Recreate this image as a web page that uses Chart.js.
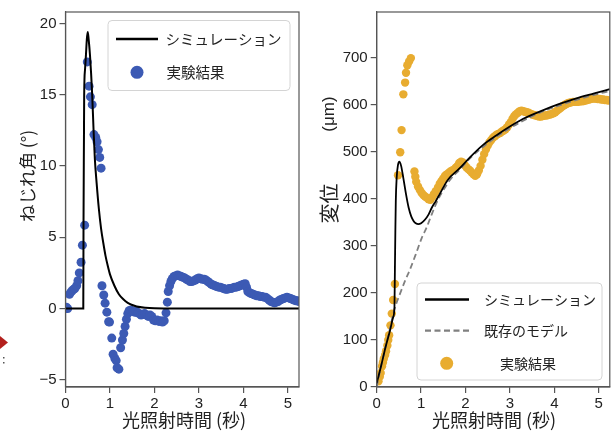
<!DOCTYPE html>
<html>
<head>
<meta charset="utf-8">
<script src="https://cdn.jsdelivr.net/npm/chart.js@4/dist/chart.umd.min.js"></script>
<style>
  html, body { margin: 0; padding: 0; background: #ffffff; }
  #wrap { position: relative; width: 614px; height: 433px; overflow: hidden; background: #fff; }
  canvas { position: absolute; left: 0; top: 0; }
</style>
</head>
<body>
<div id="wrap">
  <canvas id="left" width="614" height="433"></canvas>
  <canvas id="right" width="614" height="433"></canvas>
</div>
<script>
// ---------- data ----------
const xAxisTitle = '光照射時間 (秒)';
const leftYTitle = 'ねじれ角 (°)';
const rightYTitleMain = '変位';
const rightYTitleUnit = '(μm)';
const leftLegendLabels = ['シミュレーション', '実験結果'];
const rightLegendLabels = ['シミュレーション', '既存のモデル', '実験結果'];

const xTickValues = [0, 1, 2, 3, 4, 5];
const leftYTickValues = [-5, 0, 5, 10, 15, 20];
const rightYTickValues = [0, 100, 200, 300, 400, 500, 600, 700];

// left panel: twist angle (deg)
const leftSimTime  = [0, 0.40, 0.405, 0.415, 0.42, 0.44, 0.46, 0.48, 0.50, 0.52, 0.55, 0.60, 0.63, 0.66, 0.70, 0.75, 0.80, 0.85, 0.90, 0.95, 1.00, 1.10, 1.20, 1.30, 1.40, 1.50, 1.60, 1.80, 2.00, 2.50, 5.25];
const leftSimAngle = [0, 0, 6, 12, 15, 16.8, 17.8, 18.9, 19.4, 18.9, 17.8, 15, 12.6, 10.5, 8.8, 7.0, 5.6, 4.6, 3.7, 3.0, 2.4, 1.6, 1.0, 0.65, 0.4, 0.25, 0.15, 0.06, 0.02, 0, 0];

const leftExpTime = [0.02, 0.05, 0.09, 0.12, 0.15, 0.18, 0.21, 0.25, 0.28, 0.31, 0.35, 0.38, 0.43,
  0.49, 0.53, 0.56, 0.60, 0.64, 0.68, 0.71, 0.74, 0.77, 0.80,
  0.82, 0.86, 0.89, 0.93, 0.97, 0.99, 1.04, 1.07, 1.11, 1.14, 1.16, 1.20, 1.24, 1.28, 1.31, 1.34, 1.37, 1.40, 1.43, 1.47, 1.51, 1.55, 1.58, 1.62, 1.66, 1.70, 1.74, 1.78, 1.82, 1.86, 1.90, 1.94, 1.98, 2.02, 2.06, 2.10, 2.14, 2.18, 2.22,
  2.26, 2.29, 2.31, 2.34, 2.37, 2.40, 2.44, 2.48, 2.52, 2.56, 2.60, 2.64, 2.68, 2.72, 2.76, 2.80, 2.84, 2.88, 2.92, 2.96, 3.00, 3.04, 3.08, 3.12, 3.16, 3.20, 3.24, 3.28, 3.32, 3.36, 3.40, 3.44, 3.48, 3.52, 3.56, 3.60, 3.64, 3.68, 3.72, 3.76, 3.80, 3.84, 3.88, 3.92, 3.96, 4.00, 4.04,
  4.07, 4.10, 4.14, 4.18, 4.22, 4.26, 4.30, 4.34, 4.38, 4.42, 4.46, 4.50, 4.54, 4.58, 4.62, 4.66, 4.70, 4.74, 4.78, 4.82, 4.86, 4.90, 4.94, 4.98, 5.02, 5.06, 5.10, 5.14, 5.18, 5.22, 5.25];
const leftExpAngle = [0.1, 0.0, 1.0, 1.15, 1.25, 1.35, 1.4, 1.6, 1.95, 2.5, 3.25, 4.45, 5.85,
  17.3, 15.6, 14.85, 14.3, 12.2, 12.0, 11.7, 11.15, 10.6, 9.85,
  1.6, 0.95, 0.38, -0.25, -0.92, -0.95, -2.07, -3.2, -3.5, -3.65, -4.15, -4.25, -2.75, -2.2, -1.75, -1.25, -0.75, -0.35, -0.15, -0.1, -0.2, -0.25, -0.15, -0.3, -0.35, -0.45, -0.4, -0.35, -0.45, -0.55, -0.45, -0.55, -0.8, -0.85, -0.8, -0.9, -0.85, -0.95, -0.85,
  -0.3, 0.45, 1.2, 1.6, 1.9, 2.1, 2.25, 2.3, 2.35, 2.3, 2.25, 2.2, 2.15, 2.05, 2.0, 1.9, 1.9, 1.95, 2.0, 2.1, 2.15, 2.1, 2.05, 2.05, 2.0, 1.9, 1.8, 1.7, 1.65, 1.6, 1.55, 1.5, 1.5, 1.45, 1.4, 1.35, 1.35, 1.4, 1.4, 1.45, 1.5, 1.5, 1.55, 1.6, 1.65, 1.7, 1.75,
  1.5, 1.2, 1.1, 1.05, 1.0, 0.95, 0.9, 0.9, 0.85, 0.85, 0.8, 0.8, 0.7, 0.6, 0.5, 0.45, 0.4, 0.45, 0.5, 0.6, 0.65, 0.7, 0.75, 0.8, 0.75, 0.7, 0.65, 0.6, 0.55, 0.55, 0.5];

// right panel: displacement (um)
const rightSimTime = [0, 0.10, 0.20, 0.30, 0.37, 0.40, 0.41, 0.42, 0.43, 0.45, 0.48, 0.51, 0.55, 0.60, 0.66, 0.72, 0.78, 0.83, 0.88, 0.94, 1.00, 1.09, 1.17, 1.24, 1.33, 1.43, 1.60, 1.87, 2.10, 2.39, 2.70, 2.99, 3.30, 3.74, 4.10, 4.48, 4.90, 5.25];
const rightSimDisp = [8, 45, 85, 120, 148, 170, 250, 330, 395, 445, 472, 479, 470, 444, 410, 381, 362, 353, 348, 346, 348, 356, 367, 381, 395, 412, 440, 465, 488, 514, 535, 553, 570, 588, 601, 613, 624, 633];

const rightModelTime = [0, 0.10, 0.20, 0.30, 0.40, 0.50, 0.64, 0.75, 0.88, 1.02, 1.12, 1.24, 1.38, 1.50, 1.65, 1.87, 2.10, 2.39, 2.70, 3.00, 3.30, 3.70, 4.10, 4.50, 4.90, 5.25];
const rightModelDisp = [0, 45, 85, 125, 165, 192, 226, 250, 282, 318, 338, 367, 398, 418, 440, 462, 486, 510, 532, 550, 566, 584, 598, 610, 621, 629];

const rightExpTime = [0.04, 0.07, 0.09, 0.12, 0.14, 0.16, 0.19, 0.21, 0.24, 0.26, 0.28, 0.31, 0.34, 0.37, 0.41,
  0.48, 0.53, 0.56, 0.60, 0.64, 0.66, 0.69, 0.73, 0.77,
  0.85, 0.87, 0.89, 0.93, 0.97, 1.01, 1.05, 1.09, 1.13, 1.17, 1.21, 1.25, 1.29, 1.33, 1.38, 1.42, 1.46, 1.50, 1.54, 1.58, 1.62, 1.66, 1.70, 1.74, 1.78, 1.82, 1.86, 1.90, 1.94, 1.98, 2.02, 2.06, 2.10, 2.14, 2.18, 2.22, 2.26, 2.30, 2.34, 2.38, 2.42, 2.46, 2.50, 2.54, 2.58, 2.62, 2.66, 2.70, 2.74, 2.78, 2.82, 2.86, 2.90, 2.94, 2.98, 3.02, 3.06, 3.10, 3.14, 3.18, 3.22, 3.26, 3.30, 3.34, 3.38, 3.42, 3.46, 3.50, 3.54, 3.58, 3.62, 3.66, 3.70, 3.74, 3.78, 3.82, 3.86, 3.90, 3.94, 3.98, 4.02, 4.06, 4.10, 4.14, 4.18, 4.22, 4.26, 4.30, 4.34, 4.38, 4.42, 4.46, 4.50, 4.54, 4.58, 4.62, 4.66, 4.70, 4.74, 4.78, 4.82, 4.86, 4.90, 4.94, 4.98, 5.02, 5.06, 5.10, 5.14, 5.18, 5.22];
const rightExpDisp = [12, 22, 30, 44, 52, 60, 68, 76, 88, 100, 110, 131, 156, 185, 219,
  450, 499, 546, 622, 647, 668, 684, 692, 699,
  458, 447, 436, 426, 419, 413, 408, 405, 402, 399, 398, 404, 410, 416, 424, 432, 438, 443, 449, 452, 455, 458, 460, 462, 466, 470, 476, 479, 477, 472, 467, 463, 460, 456, 452, 449, 452, 460, 470, 483, 495, 505, 513, 520, 525, 530, 533, 536, 538, 540, 543, 545, 548, 552, 558, 563, 570, 576, 580, 583, 586, 587, 586, 585, 584, 583, 581, 579, 578, 577, 576, 575, 575, 576, 577, 577, 578, 579, 580, 582, 584, 587, 590, 593, 596, 599, 601, 603, 604, 605, 606, 606, 606, 606, 607, 607, 608, 609, 610, 611, 612, 613, 613, 613, 612, 612, 611, 611, 610, 610, 609];

// ---------- helpers ----------
const pairs = (xs, ys) => xs.map((x, i) => ({ x: x, y: ys[i] }));
const TICK_FONT = { family: '"Liberation Sans", Arial, sans-serif', size: 15 };
const JP = '"Noto Sans CJK JP", "Noto Sans", sans-serif';
const AXIS = '#555555';
const TEXT = '#222222';
const BLUE = '#3C5AB4';
const ORANGE = '#E8AC30';

function minusFmt(v) { return String(v).replace('-', '\u2212'); }

function frameAndExtras(extra) {
  return {
    id: 'frameExtras',
    afterDatasetsDraw(chart) {
      const ctx = chart.ctx, a = chart.chartArea;
      ctx.save();
      ctx.strokeStyle = AXIS;
      ctx.lineWidth = 1.2;
      ctx.strokeRect(a.left, a.top, a.right - a.left, a.bottom - a.top);
      ctx.restore();
    },
    afterDraw(chart) { extra(chart.ctx); }
  };
}

function legendBox(ctx, x, y, w, h) {
  ctx.save();
  ctx.beginPath();
  ctx.roundRect(x, y, w, h, 4);
  ctx.fillStyle = 'rgba(255,255,255,0.85)';
  ctx.fill();
  ctx.strokeStyle = '#d4d4d4';
  ctx.lineWidth = 1;
  ctx.stroke();
  ctx.restore();
}
function legendText(ctx, s, x, y, size) {
  ctx.save();
  ctx.fillStyle = TEXT;
  ctx.font = size + 'px ' + JP;
  ctx.textAlign = 'left';
  ctx.textBaseline = 'middle';
  ctx.fillText(s, x, y);
  ctx.restore();
}
function legendLine(ctx, x1, x2, y, color, width, dash) {
  ctx.save();
  ctx.strokeStyle = color; ctx.lineWidth = width;
  ctx.setLineDash(dash || []);
  ctx.beginPath(); ctx.moveTo(x1, y); ctx.lineTo(x2, y); ctx.stroke();
  ctx.restore();
}
function legendDot(ctx, x, y, r, color) {
  ctx.save();
  ctx.fillStyle = color;
  ctx.beginPath(); ctx.arc(x, y, r, 0, Math.PI * 2); ctx.fill();
  ctx.restore();
}
function title(ctx, s, x, y, size, rot, family) {
  ctx.save();
  ctx.translate(x, y);
  if (rot) ctx.rotate(rot);
  ctx.fillStyle = TEXT;
  ctx.font = size + 'px ' + (family || JP);
  ctx.textAlign = 'center';
  ctx.textBaseline = 'middle';
  ctx.fillText(s, 0, 0);
  ctx.restore();
}

function scales(xmax, ymin, ymax, yTicks, yWidth) {
  return {
    x: {
      type: 'linear', min: 0, max: xmax,
      afterBuildTicks(s) { s.ticks = xTickValues.map(v => ({ value: v })); },
      ticks: { font: TICK_FONT, color: TEXT, padding: 2, maxRotation: 0 },
      grid: { drawOnChartArea: false, drawTicks: true, tickLength: 6, color: AXIS, lineWidth: 1.2 },
      border: { display: true, color: AXIS, width: 1.2 },
      afterFit(s) { s.height = 433 - 387; }
    },
    y: {
      type: 'linear', min: ymin, max: ymax,
      afterBuildTicks(s) { s.ticks = yTicks.map(v => ({ value: v })); },
      ticks: { font: TICK_FONT, color: TEXT, padding: 3, callback: (v) => minusFmt(v) },
      grid: { drawOnChartArea: false, drawTicks: true, tickLength: 6, color: AXIS, lineWidth: 1.2 },
      border: { display: true, color: AXIS, width: 1.2 },
      afterFit(s) { s.width = yWidth; }
    }
  };
}

// ---------- left chart ----------
new Chart(document.getElementById('left'), {
  type: 'scatter',
  data: {
    datasets: [
      { label: leftLegendLabels[0], data: pairs(leftSimTime, leftSimAngle), showLine: true,
        borderColor: '#000', borderWidth: 2, pointRadius: 0, cubicInterpolationMode: 'monotone', clip: 0 },
      { label: leftLegendLabels[1], data: pairs(leftExpTime, leftExpAngle), showLine: false,
        backgroundColor: BLUE, borderWidth: 0, pointRadius: 4.5, clip: 0 }
    ]
  },
  options: {
    responsive: false, animation: false, devicePixelRatio: 1,
    layout: { padding: { left: 0, top: 5, right: 614 - 299, bottom: 0 } },
    plugins: { legend: { display: false }, tooltip: { enabled: false } },
    scales: scales(5.25, -5.5, 20.8, leftYTickValues, 65.5)
  },
  plugins: [frameAndExtras((ctx) => {
    legendBox(ctx, 108, 20.5, 182, 70);
    legendLine(ctx, 116, 158, 39, '#000', 2.6);
    legendText(ctx, leftLegendLabels[0], 165.5, 39, 14.5);
    legendDot(ctx, 137, 72.3, 6.5, BLUE);
    legendText(ctx, leftLegendLabels[1], 166.5, 72.5, 14.5);
    title(ctx, xAxisTitle, 184, 420, 18);
    title(ctx, leftYTitle, 27, 176, 17.5, -Math.PI / 2);
    // cropped remnant at the left edge
    ctx.save();
    ctx.fillStyle = '#b3201d';
    ctx.beginPath(); ctx.moveTo(0, 336); ctx.lineTo(8, 342.5); ctx.lineTo(0, 349); ctx.closePath(); ctx.fill();
    ctx.fillStyle = '#555';
    ctx.fillRect(3, 357, 1.5, 1.5); ctx.fillRect(3, 362, 1.5, 1.5);
    ctx.restore();
  })]
});

// ---------- right chart ----------
new Chart(document.getElementById('right'), {
  type: 'scatter',
  data: {
    datasets: [
      { label: rightLegendLabels[0], data: pairs(rightSimTime, rightSimDisp), showLine: true,
        borderColor: '#000', borderWidth: 1.8, pointRadius: 0, cubicInterpolationMode: 'monotone', clip: 0 },
      { label: rightLegendLabels[1], data: pairs(rightModelTime, rightModelDisp), showLine: true,
        borderColor: '#808080', borderWidth: 1.8, borderDash: [6, 3.5], pointRadius: 0, cubicInterpolationMode: 'monotone', clip: 0 },
      { label: rightLegendLabels[2], data: pairs(rightExpTime, rightExpDisp), showLine: false,
        backgroundColor: ORANGE, borderWidth: 0, pointRadius: 4.2, clip: 0 }
    ]
  },
  options: {
    responsive: false, animation: false, devicePixelRatio: 1,
    layout: { padding: { left: 0, top: 8, right: 3, bottom: 0 } },
    plugins: { legend: { display: false }, tooltip: { enabled: false } },
    scales: scales(5.25, 0, 797, rightYTickValues, 376.7)
  },
  plugins: [frameAndExtras((ctx) => {
    legendBox(ctx, 417, 283, 185, 97);
    legendLine(ctx, 425, 469, 299.5, '#000', 2.6);
    legendText(ctx, rightLegendLabels[0], 484, 299.5, 14);
    legendLine(ctx, 425, 469, 330.7, '#808080', 2.2, [6, 3.5]);
    legendText(ctx, rightLegendLabels[1], 484, 331, 14);
    legendDot(ctx, 446.7, 363.3, 6.5, ORANGE);
    legendText(ctx, rightLegendLabels[2], 500, 363.5, 14);
    title(ctx, xAxisTitle, 494, 420, 18);
    title(ctx, rightYTitleMain, 329, 203.5, 20, -Math.PI / 2);
    title(ctx, rightYTitleUnit, 329, 114, 17, -Math.PI / 2, '"Liberation Sans", Arial, sans-serif');
  })]
});
</script>
</body>
</html>
